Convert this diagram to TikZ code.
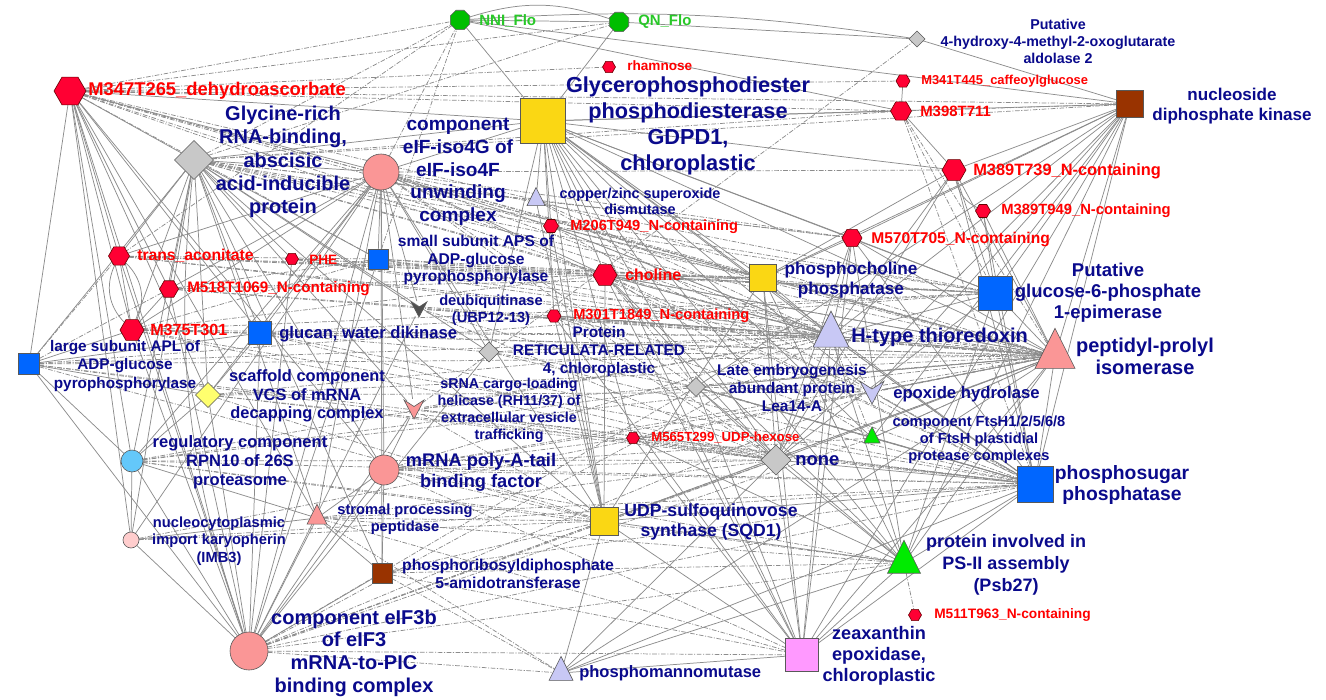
\documentclass[tikz,border=0pt]{standalone}
\usepackage{fontspec}
\setmainfont{Liberation Sans}
\usetikzlibrary{calc,shapes.geometric,backgrounds}

% node fills
\definecolor{metred}{RGB}{255,0,51}
\definecolor{flogreen}{RGB}{0,190,0}
\definecolor{cyellow}{RGB}{250,215,20}
\definecolor{clyellow}{RGB}{255,255,110}
\definecolor{cblue}{RGB}{0,102,255}
\definecolor{cpink}{RGB}{250,150,150}
\definecolor{clpink}{RGB}{255,205,205}
\definecolor{clav}{RGB}{200,200,245}
\definecolor{cbrown}{RGB}{153,51,0}
\definecolor{cgray}{RGB}{200,200,200}
\definecolor{clblue}{RGB}{100,200,250}
\definecolor{cviolet}{RGB}{255,153,255}
\definecolor{cgreen}{RGB}{0,235,0}
\definecolor{cdark}{RGB}{80,80,80}
% label colours
\definecolor{metlbl}{RGB}{255,0,0}
\definecolor{flolbl}{RGB}{40,200,40}
\definecolor{protlbl}{RGB}{10,10,140}

% arrowhead-like marker for the v-shaped nodes: node, half size, fill
\newcommand{\chevron}[3]{%
  \filldraw[fill=#3, draw=black!65, line width=0.45pt]
    ($(#1)+(-#2,-0.9*#2)$) -- ($(#1)+(0,-0.25*#2)$) -- ($(#1)+(#2,-0.9*#2)$) -- ($(#1)+(0,#2)$) -- cycle;}

\begin{document}
\begin{tikzpicture}[
    % one unit is one pixel of the reference
    x=0.75pt, y=-0.75pt,
    % nodes
    base/.style={draw=black!65, line width=0.45pt, inner sep=0pt, outer sep=0pt},
    met/.style={base, regular polygon, regular polygon sides=6, minimum size=#1*0.75pt, fill=metred, draw=red!40!black},
    flo/.style={base, regular polygon, regular polygon sides=8, minimum size=#1*0.75pt, fill=flogreen},
    sq/.style={base, rectangle, minimum size=#1*0.75pt},
    circ/.style={base, circle, minimum size=#1*0.75pt},
    dia/.style={base, diamond, aspect=1, minimum size=#1*0.75pt},
    tri/.style={base, isosceles triangle, isosceles triangle stretches, shape border rotate=90,
                minimum width=#1*0.75pt, minimum height=#1*0.75pt},
    vee/.style={circle, minimum size=#1*0.75pt, inner sep=0pt},
    % labels
    metlabel/.style={anchor=west, inner sep=0pt, text=metlbl, font=\bfseries\fontsize{#1}{#1}\selectfont},
    flolabel/.style={metlabel=#1, text=flolbl},
    protlabel/.style 2 args={inner sep=0pt, align=center, text=protlbl, font=\bfseries\fontsize{#1}{#2}\selectfont},
    protwest/.style={anchor=west, inner sep=0pt, text=protlbl, font=\bfseries\fontsize{#1}{#1}\selectfont},
    % edges
    link/.style={draw=black!45, line width=0.55pt},
    dlink/.style={link, dash pattern=on 3.5pt off 1.2pt on 0.8pt off 1.2pt},
  ]

  \useasboundingbox (0,0) rectangle (1326,699);

  % metabolites
  \node (m347)    [met=32]  at (70,91)   {};
  \node (transac) [met=21]  at (119,256) {};
  \node (phe)     [met=13]  at (292,259) {};
  \node (m518)    [met=19]  at (169,289) {};
  \node (m375)    [met=24]  at (132,330) {};
  \node (rham)    [met=13]  at (609,67)  {};
  \node (m341)    [met=14]  at (903,81)  {};
  \node (m398)    [met=21]  at (901,111) {};
  \node (m389a)   [met=24]  at (954,170) {};
  \node (m389b)   [met=15]  at (983,211) {};
  \node (m206)    [met=15]  at (551,226) {};
  \node (m570)    [met=20]  at (852,238) {};
  \node (chol)    [met=24]  at (605,275) {};
  \node (m301)    [met=14]  at (554,316) {};
  \node (m565)    [met=13]  at (633,438) {};
  \node (m511)    [met=13]  at (915,615) {};
  \node (nni)     [flo=21]  at (460,20)  {};
  \node (qn)      [flo=21]  at (619,22)  {};

  \node (m347-t)    [metlabel=13.8] at (88,91)   {M347T265\_dehydroascorbate};
  \node (transac-t) [metlabel=11.8] at (137,256) {trans\_aconitate};
  \node (phe-t)     [metlabel=10.2] at (309,260) {PHE};
  \node (m518-t)    [metlabel=11.4] at (187,289) {M518T1069\_N-containing};
  \node (m375-t)    [metlabel=12.1] at (150,330) {M375T301};
  \node (rham-t)    [metlabel=10.2] at (627,66)  {rhamnose};
  \node (m341-t)    [metlabel=9.7]  at (921,81)  {M341T445\_caffeoylglucose};
  \node (m398-t)    [metlabel=11.2] at (920,111) {M398T711};
  \node (m389a-t)   [metlabel=12.3] at (973,171) {M389T739\_N-containing};
  \node (m389b-t)   [metlabel=11.1] at (1001,211) {M389T949\_N-containing};
  \node (m206-t)    [metlabel=11]   at (570,227) {M206T949\_N-containing};
  \node (m570-t)    [metlabel=11.7] at (871,239) {M570T705\_N-containing};
  \node (chol-t)    [metlabel=12]   at (625,275) {choline};
  \node (m301-t)    [metlabel=11]   at (573,316) {M301T1849\_N-containing};
  \node (m565-t)    [metlabel=9.9]  at (651,438) {M565T299\_UDP-hexose};
  \node (m511-t)    [metlabel=10.3] at (934,615) {M511T963\_N-containing};
  \node (nni-t)     [flolabel=11.3] at (479,21)  {NNI\_Flo};
  \node (qn-t)      [flolabel=11.2] at (638,22)  {QN\_Flo};

  % proteins
  \node (gdpd)    [sq=45,  fill=cyellow]  at (543,121)  {};
  \node (glyrich) [dia=39, fill=cgray]    at (194,160)  {};
  \node (iso4g)   [circ=36, fill=cpink]   at (381,172)  {};
  \node (cuzn)    [tri=18, fill=clav]     at (536,200)  {};
  \node (aldol)   [dia=16, fill=cgray]    at (917,39)   {};
  \node (ndk)     [sq=27,  fill=cbrown]   at (1130,104) {};
  \node (apss)    [sq=20,  fill=cblue]    at (378,259)  {};
  \node (deub)    [vee=16]                at (419,309)  {};
  \node (glucan)  [sq=23,  fill=cblue]    at (260,333)  {};
  \node (apl)     [sq=21,  fill=cblue]    at (29,364)   {};
  \node (vcs)     [dia=25, fill=clyellow] at (208,395)  {};
  \node (rtr)     [dia=20, fill=cgray]    at (489,352)  {};
  \node (srna)    [vee=20]                at (414,409)  {};
  \node (rpn10)   [circ=22, fill=clblue]  at (132,461)  {};
  \node (pabp)    [circ=30, fill=cpink]   at (384,470)  {};
  \node (imb3)    [circ=16, fill=clpink]  at (131,540)  {};
  \node (spp)     [tri=20, fill=cpink]    at (317,518)  {};
  \node (prat)    [sq=20,  fill=cbrown]   at (382,573)  {};
  \node (eif3b)   [circ=38, fill=cpink]   at (249,651)  {};
  \node (pmm)     [tri=24, fill=clav]     at (561,673)  {};
  \node (sqd1)    [sq=28,  fill=cyellow]  at (604,521)  {};
  \node (zep)     [sq=33,  fill=cviolet]  at (802,655)  {};
  \node (pcp)     [sq=27,  fill=cyellow]  at (763,278)  {};
  \node (htrx)    [tri=36, fill=clav]     at (831,336)  {};
  \node (lea)     [dia=19, fill=cgray]    at (696,387)  {};
  \node (eph)     [vee=22]                at (872,392)  {};
  \node (ftsh)    [tri=16, fill=cgreen]   at (872,438)  {};
  \node (none)    [dia=30, fill=cgray]    at (776,460)  {};
  \node (g6pe)    [sq=34,  fill=cblue]    at (995,293)  {};
  \node (ppi)     [tri=40, fill=cpink]    at (1055,356) {};
  \node (pspp)    [sq=36,  fill=cblue]    at (1035,484) {};
  \node (psb27)   [tri=33, fill=cgreen]   at (904,563)  {};

  \node (gdpd-t)    [protlabel={16.3}{19.5}] at (688,126)  {Glycerophosphodiester\\phosphodiesterase\\GDPD1,\\chloroplastic};
  \node (glyrich-t) [protlabel={15}{17.5}]   at (283,162)  {Glycine-rich\\RNA-binding,\\abscisic\\acid-inducible\\protein};
  \node (iso4g-t)   [protlabel={14.3}{17}]   at (458,172)  {component\\eIF-iso4G of\\eIF-iso4F\\unwinding\\complex};
  \node (cuzn-t)    [protlabel={10.8}{12}]   at (640,201)  {copper/zinc superoxide\\dismutase};
  \node (aldol-t)   [protlabel={10.7}{12.75}] at (1058,41) {Putative\\4-hydroxy-4-methyl-2-oxoglutarate\\aldolase 2};
  \node (ndk-t)     [protlabel={12.8}{14.5}] at (1232,106) {nucleoside\\diphosphate kinase};
  \node (apss-t)    [protlabel={11.7}{13.3}] at (476,260)  {small subunit APS of\\ADP-glucose\\pyrophosphorylase};
  \node (deub-t)    [protlabel={11}{12.75}]  at (491,310)  {deubiquitinase\\(UBP12-13)};
  \node (glucan-t)  [protwest=12.5]          at (279,334)  {glucan, water dikinase};
  \node (apl-t)     [protlabel={11.5}{14}]   at (125,366)  {large subunit APL of\\ADP-glucose\\pyrophosphorylase};
  \node (vcs-t)     [protlabel={12.3}{14}]   at (307,396)  {scaffold component\\VCS of mRNA\\decapping complex};
  \node (rtr-t)     [protlabel={11.5}{13.5}] at (599,352)  {Protein\\RETICULATA-RELATED\\4, chloroplastic};
  \node (srna-t)    [protlabel={10.7}{12.75}] at (509,410) {sRNA cargo-loading\\helicase (RH11/37) of\\extracellular vesicle\\trafficking};
  \node (rpn10-t)   [protlabel={12.4}{14.3}] at (240,462)  {regulatory component\\RPN10 of 26S\\proteasome};
  \node (pabp-t)    [protlabel={13.7}{15.75}] at (481,472) {mRNA poly-A-tail\\binding factor};
  \node (imb3-t)    [protlabel={11}{13}]     at (219,541)  {nucleocytoplasmic\\import karyopherin\\(IMB3)};
  \node (spp-t)     [protlabel={11}{12.4}]   at (405,519)  {stromal processing\\peptidase};
  \node (prat-t)    [protlabel={11.8}{13.5}] at (508,574)  {phosphoribosyldiphosphate\\5-amidotransferase};
  \node (eif3b-t)   [protlabel={15}{17}]     at (354,653)  {component eIF3b\\of eIF3\\mRNA-to-PIC\\binding complex};
  \node (pmm-t)     [protwest=12.4]          at (579,673)  {phosphomannomutase};
  \node (sqd1-t)    [protlabel={13.2}{14.5}] at (711,522)  {UDP-sulfoquinovose\\synthase (SQD1)};
  \node (zep-t)     [protlabel={13.6}{15.75}] at (879,656) {zeaxanthin\\epoxidase,\\chloroplastic};
  \node (pcp-t)     [protlabel={12.9}{15}]   at (851,280)  {phosphocholine\\phosphatase};
  \node (htrx-t)    [protwest=15]            at (851,337)  {H-type thioredoxin};
  \node (lea-t)     [protlabel={11.6}{13.5}] at (792,388)  {Late embryogenesis\\abundant protein\\Lea14-A};
  \node (eph-t)     [protwest=12.5]          at (893,394)  {epoxide hydrolase};
  \node (ftsh-t)    [protlabel={11}{12.75}]  at (979,440)  {component FtsH1/2/5/6/8\\of FtsH plastidial\\protease complexes};
  \node (none-t)    [protwest=13.8]          at (795,461)  {none};
  \node (g6pe-t)    [protlabel={13.9}{15.75}] at (1108,293) {Putative\\glucose-6-phosphate\\1-epimerase};
  \node (ppi-t)     [protlabel={15}{16.5}]   at (1145,356) {peptidyl-prolyl\\isomerase};
  \node (pspp-t)    [protlabel={14.5}{15.75}] at (1122,485) {phosphosugar\\phosphatase};
  \node (psb27-t)   [protlabel={13.5}{16.5}] at (1006,565) {protein involved in\\PS-II assembly\\(Psb27)};

  \begin{scope}[on background layer]
    \fill[white] (0,0) rectangle (1326,699);

    % solid correlations
    \foreach \s/\tl in {
        m347/{apl,glyrich,transac,m375,rpn10,vcs,glucan,eif3b,spp,pabp,iso4g,gdpd,imb3,m518},
        glyrich/{gdpd,iso4g,apl,transac,m518,m375,vcs,rpn10,imb3,spp,pabp,glucan,apss,prat,srna,deub,phe,rtr,sqd1},
        iso4g/{eif3b,pabp,spp,prat,rpn10,vcs,glucan,m375,m518,apss,srna,deub,imb3,transac,chol,rtr,sqd1,m206,gdpd},
        eif3b/{imb3,rpn10,spp,pabp,vcs,glucan,apss,m375,transac,m518,apl,srna,deub,prat,phe,rtr},
        gdpd/{nni,qn,m398,m389a,m570,cuzn,m206,chol,pcp,htrx,g6pe,ppi,none,pspp,psb27,zep,sqd1,lea,eph,ftsh,m301,rtr,ndk,m565},
        ndk/{nni,aldol,m389a,m570,g6pe,ppi,pspp,psb27,ftsh,eph,none,zep,htrx,pcp,lea},
        ppi/{g6pe,m389a,m570,m389b,pspp,psb27,none,zep,eph,lea,sqd1,htrx,pcp,ftsh,chol,pmm},
        pspp/{m389a,m570,none,psb27,zep,sqd1,ftsh,lea,eph,g6pe,htrx,m389b,pmm},
        psb27/{sqd1,none,zep,pmm,lea,htrx,pcp,chol,m570,m565,g6pe},
        zep/{none,sqd1,pcp,lea,htrx,chol,m301,m570,pmm,m565},
        none/{sqd1,pcp,htrx,lea,chol,m570,m389a,pmm,g6pe},
        sqd1/{chol,pcp,pmm,m301,m206,cuzn},
        htrx/{pcp,chol,m570,m206,m389a,g6pe,m301},
        pcp/{chol,m570,m206,m389a},
        g6pe/{m570,m389a,m389b,chol},
        nni/{qn,m398}, qn/{aldol}, m341/{m398}, m398/{m389a},
        rpn10/{imb3,apl,spp,vcs}, imb3/{spp}, apl/{vcs,m375,glucan},
        spp/{pabp,prat}, pabp/{prat,srna}, m375/{m518,transac}, vcs/{glucan}}
      \foreach \t in \tl
        \draw[link] (\s) -- (\t);

    % curved ones
    \draw[link] (nni) to[bend left=18] (qn);
    \draw[link] (nni) to[bend left=6] (aldol);
    \draw[link] (transac) to[bend left=35] (m375);
    \draw[link] (transac) to[bend right=35] (m375);
    \draw[link] (m389a) to[bend right=25] (m389b);
    \draw[link] (glyrich) to[bend right=12] (eif3b);

    % dash-dotted correlations
    \foreach \s/\tl in {
        m347/{nni,qn,ndk,m398,pcp,htrx,ppi,chol,m206,cuzn,apss,rham,m341},
        glyrich/{nni,qn,ndk,htrx,ppi,m398,m570,chol,pcp,cuzn,m206,g6pe},
        iso4g/{nni,htrx,ppi,g6pe,none,pspp,m570,pcp,lea,m389a},
        apl/{htrx,ppi,m518,transac,pspp,g6pe,none,sqd1},
        m375/{htrx,ppi,pspp,g6pe,none,apss,glucan,chol},
        transac/{apss,chol,pcp,htrx,g6pe,ppi},
        m518/{chol,pcp,htrx,ppi,apss},
        phe/{chol,pcp,ppi,htrx},
        rpn10/{htrx,ppi,pspp,none,sqd1,psb27,lea},
        vcs/{htrx,ppi,none,pspp,eph,sqd1},
        glucan/{htrx,ppi,g6pe,pspp,none,rtr},
        eif3b/{sqd1,pmm,zep,pspp,psb27,none,htrx,ppi,lea,ftsh,eph},
        pabp/{sqd1,zep,psb27,pspp,none,htrx,ppi,ftsh,eph,m565},
        spp/{sqd1,pmm,zep,psb27,pspp,none},
        prat/{pmm,zep,psb27,pspp,sqd1},
        srna/{sqd1,pspp,none,ppi,htrx,aldol},
        imb3/{sqd1,pspp,ppi},
        deub/{htrx,ppi,pspp,none},
        apss/{htrx,ppi,g6pe,chol,nni},
        rtr/{htrx,ppi,pspp,lea},
        cuzn/{htrx,ppi,pspp,m570},
        m206/{htrx,ppi,pspp,g6pe},
        chol/{htrx,ppi,pspp,g6pe,ftsh,lea,eph},
        m301/{htrx,ppi,pspp,none,eph},
        htrx/{ppi,pspp,eph,ftsh},
        m565/{pspp,ppi,none},
        lea/{pspp,ppi,ftsh,eph},
        eph/{ppi}, ftsh/{ppi}, m398/{ndk,ppi,g6pe,pspp},
        psb27/{m511}, nni/{transac}}
      \foreach \t in \tl
        \draw[dlink] (\s) -- (\t);
  \end{scope}

  % v-shaped markers
  \chevron{deub}{8}{cdark}
  \chevron{srna}{10}{cpink}
  \chevron{eph}{12}{clav}

\end{tikzpicture}
\end{document}
